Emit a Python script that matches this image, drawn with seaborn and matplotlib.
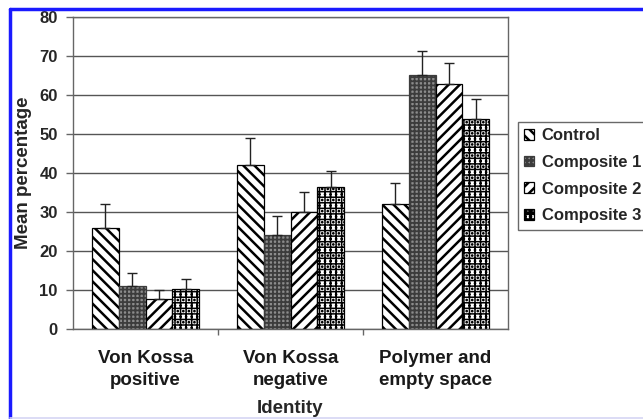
import numpy as np
import pandas as pd
import matplotlib
matplotlib.use("Agg")
import matplotlib.pyplot as plt
from matplotlib.patches import Patch
from matplotlib.lines import Line2D
import seaborn as sns

# Categories and series
categories = ["Von Kossa\npositive", "Von Kossa\nnegative", "Polymer and\nempty space"]
series = ["Control", "Composite 1", "Composite 2", "Composite 3"]

# Mean percentages per series (one value per category)
control = [26.0, 42.0, 32.0]
composite1 = [11.0, 24.0, 65.0]
composite2 = [7.6, 30.0, 62.7]
composite3 = [10.3, 36.3, 53.8]

# Upper error bar lengths
control_err = [6.0, 7.0, 5.4]
composite1_err = [3.3, 4.9, 6.2]
composite2_err = [2.4, 5.0, 5.4]
composite3_err = [2.4, 4.3, 5.2]

yticks = [0, 10, 20, 30, 40, 50, 60, 70, 80]

means = [control, composite1, composite2, composite3]
errs = [control_err, composite1_err, composite2_err, composite3_err]

rows = []
for s, vals in zip(series, means):
    for c, v in zip(categories, vals):
        rows.append({"Identity": c, "series": s, "value": v})
df = pd.DataFrame(rows)

sns.set_theme(style="white")
plt.rcParams["font.family"] = ["Liberation Sans", "DejaVu Sans"]
plt.rcParams["hatch.linewidth"] = 1.8

# Fill styles per series: (facecolor, edgecolor, hatch, hatch line width)
styles = {
    "Control": ("white", "black", "\\\\\\", 1.8),
    "Composite 1": ("#8c8c8c", "#3c3c3c", "++++", 1.3),
    "Composite 2": ("white", "black", "///", 1.8),
    "Composite 3": ("white", "black", "+++...", 1.1),
}


def apply_style(patch, name):
    fc, ec, h, hlw = styles[name]
    patch.set_facecolor(fc)
    patch.set_edgecolor(ec)
    patch.set_hatch(h)
    patch.set_linewidth(0.9)
    if hasattr(patch, "set_hatch_linewidth"):
        patch.set_hatch_linewidth(hlw)


fig = plt.figure(figsize=(6.43, 4.19), dpi=100)
ax = fig.add_axes([73 / 643, 1 - 329 / 419, (508 - 73) / 643, (329 - 17) / 419])

sns.barplot(data=df, x="Identity", y="value", hue="series",
            order=categories, hue_order=series, width=0.74, gap=0,
            errorbar=None, legend=False, ax=ax)

for cont, s, errv, vals in zip(ax.containers, series, errs, means):
    xs = []
    for p in cont:
        apply_style(p, s)
        xs.append(p.get_x() + p.get_width() / 2)
    ax.errorbar(xs, vals, yerr=[np.zeros(len(errv)), errv], fmt="none",
                ecolor="#222222", elinewidth=1.0, capsize=3.5, capthick=1.0,
                zorder=5)

ax.set_ylim(0, 80)
ax.set_xlim(-0.5, 2.5)
ax.set_yticks(yticks)
ax.set_yticklabels([str(t) for t in yticks], fontsize=12, fontweight="bold")
ax.set_axisbelow(True)
ax.yaxis.grid(True, color="#555555", linewidth=1.0)
ax.xaxis.grid(False)

for side in ["left", "right", "bottom", "top"]:
    ax.spines[side].set_visible(True)
    ax.spines[side].set_color("#666666")
    ax.spines[side].set_linewidth(1.0)

ax.tick_params(axis="y", which="major", left=True, length=5, width=1,
               color="#666666", pad=6)
ax.tick_params(axis="x", which="major", bottom=False, length=0, pad=15)
ax.set_xticks([0.5, 1.5], minor=True)
ax.tick_params(axis="x", which="minor", bottom=True, length=4, width=1,
               color="#666666", direction="out")
for lbl in ax.get_xticklabels():
    lbl.set_fontsize(13.5)
    lbl.set_fontweight("bold")
    lbl.set_color("#1a1a1a")
    lbl.set_linespacing(1.4)

ax.set_xlabel("Identity", fontsize=13.5, fontweight="bold", labelpad=8)
ax.set_ylabel("Mean percentage", fontsize=13.5, fontweight="bold", labelpad=5)

handles = []
for s in series:
    hp = Patch()
    apply_style(hp, s)
    handles.append(hp)
leg = fig.legend(handles, series, loc="upper left",
                 bbox_to_anchor=(518 / 643, 1 - 122 / 419),
                 bbox_transform=fig.transFigure,
                 prop={"size": 12, "weight": "bold"},
                 frameon=True, fancybox=False, edgecolor="#444444",
                 borderpad=0.38, handlelength=0.6, handleheight=0.6,
                 handletextpad=0.45, labelspacing=0.7, borderaxespad=0)
leg.get_frame().set_linewidth(1.0)

# Blue page frame
fig.add_artist(Line2D([10 / 643, 10 / 643], [0, 1 - 9.5 / 419],
                      transform=fig.transFigure, color="#1a1aff", lw=2.5))
fig.add_artist(Line2D([10 / 643, 1.0], [1 - 9.5 / 419, 1 - 9.5 / 419],
                      transform=fig.transFigure, color="#1a1aff", lw=2.5))
fig.add_artist(Line2D([10 / 643, 1.0], [0.6 / 419, 0.6 / 419],
                      transform=fig.transFigure, color="#d6d6f4", lw=1.2))

fig.savefig("out.png", dpi=100)
